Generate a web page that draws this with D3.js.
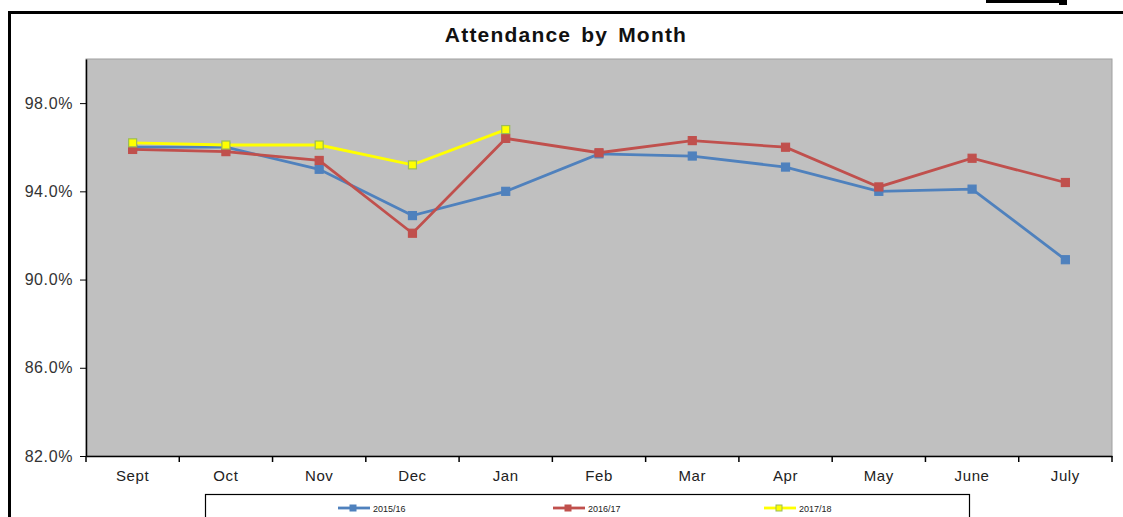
<!DOCTYPE html>
<html>
<head>
<meta charset="utf-8">
<script src="https://cdn.jsdelivr.net/npm/d3@7"></script>
<style>
  body { margin: 0; background: #fff; }
  svg { display: block; font-family: "Liberation Sans", Arial, sans-serif; }
</style>
</head>
<body>
<div id="chart"></div>
<script>
// months along the x axis
const months = ["Sept", "Oct", "Nov", "Dec", "Jan", "Feb", "Mar", "Apr", "May", "June", "July"];

// attendance % per school year
const y1516 = [96.0, 96.0, 95.0, 92.9, 94.0, 95.7, 95.6, 95.1, 94.0, 94.1, 90.9];
const y1617 = [95.9, 95.8, 95.4, 92.1, 96.4, 95.75, 96.3, 96.0, 94.2, 95.5, 94.4];
const y1718 = [96.2, 96.1, 96.1, 95.2, 96.8];

const seriesNames = ["2015/16", "2016/17", "2017/18"];
const yTicks = [82, 86, 90, 94, 98];

const series = [
  { name: seriesNames[0], values: y1516, color: "#4f81bd", marker: "#4f81bd", mstroke: "#4f81bd" },
  { name: seriesNames[1], values: y1617, color: "#c0504d", marker: "#c0504d", mstroke: "#c0504d" },
  { name: seriesNames[2], values: y1718, color: "#ffff00", marker: "#ffff00", mstroke: "#9bbb59" }
];

const W = 1123, H = 517;
const margin = { top: 59, right: 11, bottom: 61, left: 86 };
const width = W - margin.left - margin.right;
const height = H - margin.top - margin.bottom;

const svg = d3.select("#chart").append("svg")
  .attr("width", W)
  .attr("height", H);

// outer chart frame (cut off at right and bottom)
svg.append("rect")
  .attr("x", 9.5).attr("y", 12.5)
  .attr("width", W + 20).attr("height", H + 20)
  .attr("fill", "none").attr("stroke", "#000").attr("stroke-width", 3);

// little black bit at top right
svg.append("rect").attr("x", 986).attr("y", 0).attr("width", 74).attr("height", 3).attr("fill", "#000");
svg.append("rect").attr("x", 1059).attr("y", 0).attr("width", 8).attr("height", 5).attr("fill", "#000");

// title
svg.append("text")
  .attr("x", 566).attr("y", 42)
  .attr("text-anchor", "middle")
  .style("font-size", "21px")
  .style("font-weight", "bold")
  .style("letter-spacing", "1.2px")
  .style("word-spacing", "3px")
  .attr("fill", "#111")
  .text("Attendance by Month");

const g = svg.append("g").attr("transform", `translate(${margin.left},${margin.top})`);

const x = d3.scaleBand().domain(months).range([0, width]);
const y = d3.scaleLinear().domain([82, 100]).range([height, 0]);

// plot area
g.append("rect")
  .attr("width", width).attr("height", height)
  .attr("fill", "#c0c0c0")
  .attr("stroke", "#a0a0a0");

// y axis
const yAxis = g.append("g")
  .call(d3.axisLeft(y).tickValues(yTicks).tickSize(6).tickSizeOuter(0).tickPadding(7)
    .tickFormat(d => d.toFixed(1) + "%"));
yAxis.select(".domain").attr("stroke", "#000").attr("stroke-width", 1.5);
yAxis.selectAll("text").style("font-size", "16px").style("letter-spacing", "0.6px").attr("fill", "#333");

// x axis, ticks on category boundaries
const xAxis = g.append("g").attr("transform", `translate(0,${height})`)
  .call(d3.axisBottom(x).tickSize(0).tickSizeOuter(0).tickPadding(14));
xAxis.select(".domain").attr("stroke", "#000").attr("stroke-width", 1.5);
xAxis.selectAll("text").style("font-size", "15px").style("letter-spacing", "0.6px").attr("fill", "#222");
g.append("g").selectAll("line")
  .data(months.concat(["end"]))
  .enter().append("line")
  .attr("x1", (d, i) => i * x.bandwidth())
  .attr("x2", (d, i) => i * x.bandwidth())
  .attr("y1", height).attr("y2", height + 6)
  .attr("stroke", "#000").attr("stroke-width", 1.5);

const line = d3.line()
  .x((d, i) => x(months[i]) + x.bandwidth() / 2)
  .y(d => y(d));

series.forEach(s => {
  g.append("path")
    .datum(s.values)
    .attr("d", line)
    .attr("fill", "none")
    .attr("stroke", s.color)
    .attr("stroke-width", 2.8);
  g.selectAll(null)
    .data(s.values)
    .enter().append("rect")
    .attr("x", (d, i) => x(months[i]) + x.bandwidth() / 2 - 4)
    .attr("y", d => y(d) - 4)
    .attr("width", 8).attr("height", 8)
    .attr("fill", s.marker)
    .attr("stroke", s.mstroke)
    .attr("stroke-width", 1.2);
});

// legend box
const leg = svg.append("g");
leg.append("rect")
  .attr("x", 205.5).attr("y", 494.5)
  .attr("width", 764).attr("height", 40)
  .attr("fill", "#fff").attr("stroke", "#000").attr("stroke-width", 1.2);

const legX = [338, 553, 764];
series.forEach((s, i) => {
  const lg = leg.append("g").attr("transform", `translate(${legX[i]},508)`);
  lg.append("line").attr("x1", 0).attr("x2", 32).attr("y1", 0).attr("y2", 0)
    .attr("stroke", s.color).attr("stroke-width", 2.8);
  lg.append("rect").attr("x", 12).attr("y", -3).attr("width", 6).attr("height", 6)
    .attr("fill", s.marker).attr("stroke", s.mstroke).attr("stroke-width", 1);
  lg.append("text").attr("x", 35).attr("y", 3.5)
    .style("font-size", "9px").attr("fill", "#222")
    .text(s.name);
});
</script>
</body>
</html>
